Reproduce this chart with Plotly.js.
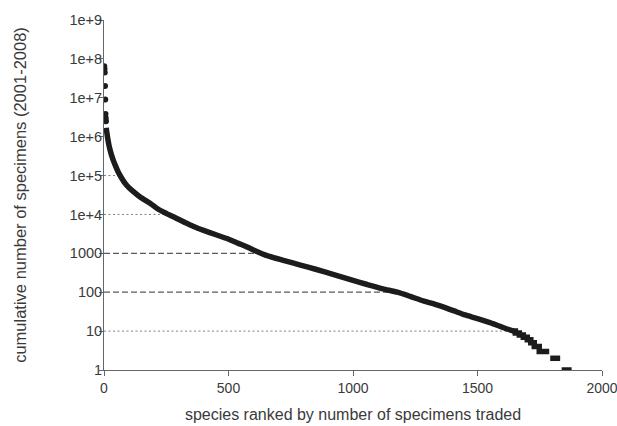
<!DOCTYPE html>
<html>
<head>
<meta charset="utf-8">
<script src="https://cdn.plot.ly/plotly-3.0.1.min.js"></script>
<style>html,body{margin:0;padding:0;background:#fff;}#chart{width:617px;height:426px;}</style>
</head>
<body>
<div id="chart"></div>
<script>
// Top-ranked species, drawn as separate points
const topRanks  = [1, 2, 3, 4, 5, 6, 7, 8];
const topValues = [6.5e7, 5.5e7, 4.5e7, 2.0e7, 9.0e6, 3.8e6, 3.0e6, 2.5e6];

// Main body of the ranked curve
const curveRanks  = [9, 10, 12, 15, 20, 25, 30, 37, 45, 58, 70, 84, 100, 117, 145, 185, 215, 252, 290, 325, 360, 400, 450, 494, 540, 570, 600, 655, 720, 789, 850, 923, 990, 1057, 1120, 1178, 1230, 1285, 1325, 1370, 1406, 1450, 1500, 1550, 1594, 1625, 1645];
const curveValues = [1.7e6, 1.45e6, 1.2e6, 9e5, 6e5, 4.4e5, 3.4e5, 2.5e5, 1.85e5, 1.2e5, 8.8e4, 6.4e4, 4.9e4, 3.9e4, 2.8e4, 1.95e4, 1.4e4, 1.05e4, 8000, 6200, 4900, 3900, 3000, 2400, 1800, 1500, 1220, 870, 660, 500, 390, 285, 210, 158, 122, 100, 78, 59, 50, 40, 33, 26, 21, 16.5, 13, 11, 10];

// Tail staircase: first rank at which each small count begins (counts 10..3)
const stairRanks  = [1640, 1652, 1668, 1684, 1700, 1714, 1728, 1748, 1788];
const stairValues = [10, 9, 8, 7, 6, 5, 4, 3, 3];

// Last two counts, drawn as separate runs
const runValues = [2, 1];
const runStart  = [1792, 1838];
const runEnd    = [1832, 1878];

// Reference levels with dashed drop lines
const guideLevels = [1e5, 1e4, 1000, 100, 10];
const guideStyle  = ["fine", "fine", "long", "long", "fine"];

const yTickVals = [1, 10, 100, 1000, 1e4, 1e5, 1e6, 1e7, 1e8, 1e9];
const yTickText = ["1", "10", "100", "1000", "1e+4", "1e+5", "1e+6", "1e+7", "1e+8", "1e+9"];
const xTickVals = [0, 500, 1000, 1500, 2000];

function crossing(level) {
  for (let i = 0; i < curveValues.length - 1; i++) {
    const a = curveValues[i], b = curveValues[i + 1];
    if (a >= level && b <= level) {
      const t = (Math.log10(a) - Math.log10(level)) / (Math.log10(a) - Math.log10(b));
      return curveRanks[i] + t * (curveRanks[i + 1] - curveRanks[i]);
    }
  }
  return curveRanks[curveRanks.length - 1];
}

const traces = [];
guideLevels.forEach((lv, i) => {
  const fine = guideStyle[i] === "fine";
  traces.push({
    x: [0, crossing(lv)], y: [lv, lv], mode: "lines", hoverinfo: "skip", showlegend: false,
    line: {color: fine ? "#808080" : "#5a5a5a", width: fine ? 1 : 1.3, dash: fine ? "2px,2.5px" : "6px,3px"}
  });
});

traces.push({x: topRanks, y: topValues, mode: "markers", showlegend: false,
  marker: {color: "#1c1c1c", size: 6}});
traces.push({x: curveRanks, y: curveValues, mode: "lines", showlegend: false,
  line: {color: "#1c1c1c", width: 5.5, shape: "spline", smoothing: 0.6}});
traces.push({x: stairRanks, y: stairValues, mode: "lines", showlegend: false,
  line: {color: "#1c1c1c", width: 5.5, shape: "hv"}});

const tx = [], ty = [];
runValues.forEach((v, i) => { tx.push(runStart[i], runEnd[i], null); ty.push(v, v, null); });
traces.push({x: tx, y: ty, mode: "lines", showlegend: false, connectgaps: false, cliponaxis: false,
  line: {color: "#1c1c1c", width: 5.5}});

const layout = {
  width: 617, height: 426,
  margin: {l: 104, r: 15, t: 20, b: 56},
  paper_bgcolor: "#fff", plot_bgcolor: "#fff",
  font: {family: "Liberation Sans, Arial, sans-serif", color: "#3a3a3a", size: 14},
  xaxis: {
    range: [0, 2000], tickvals: xTickVals, ticks: "outside", ticklen: 5, tickcolor: "#666",
    ticklabeloverflow: "allow",
    showline: true, linecolor: "#666", linewidth: 1, showgrid: false, zeroline: false,
    tickfont: {size: 14, color: "#3a3a3a"},
    title: {text: "species ranked by number of specimens traded", font: {size: 16, color: "#3a3a3a"}, standoff: 14}
  },
  yaxis: {
    type: "log", range: [0, 9], tickvals: yTickVals, ticktext: yTickText,
    ticks: "outside", ticklen: 4, tickcolor: "#666", ticklabelstandoff: -6,
    showline: true, linecolor: "#666", linewidth: 1, showgrid: false, zeroline: false,
    tickfont: {size: 14.5, color: "#3a3a3a"},
    title: {text: "cumulative number of specimens (2001-2008)", font: {size: 16.5, color: "#3a3a3a"}, standoff: 38}
  }
};

Plotly.newPlot("chart", traces, layout, {displayModeBar: false, staticPlot: true});
</script>
</body>
</html>
